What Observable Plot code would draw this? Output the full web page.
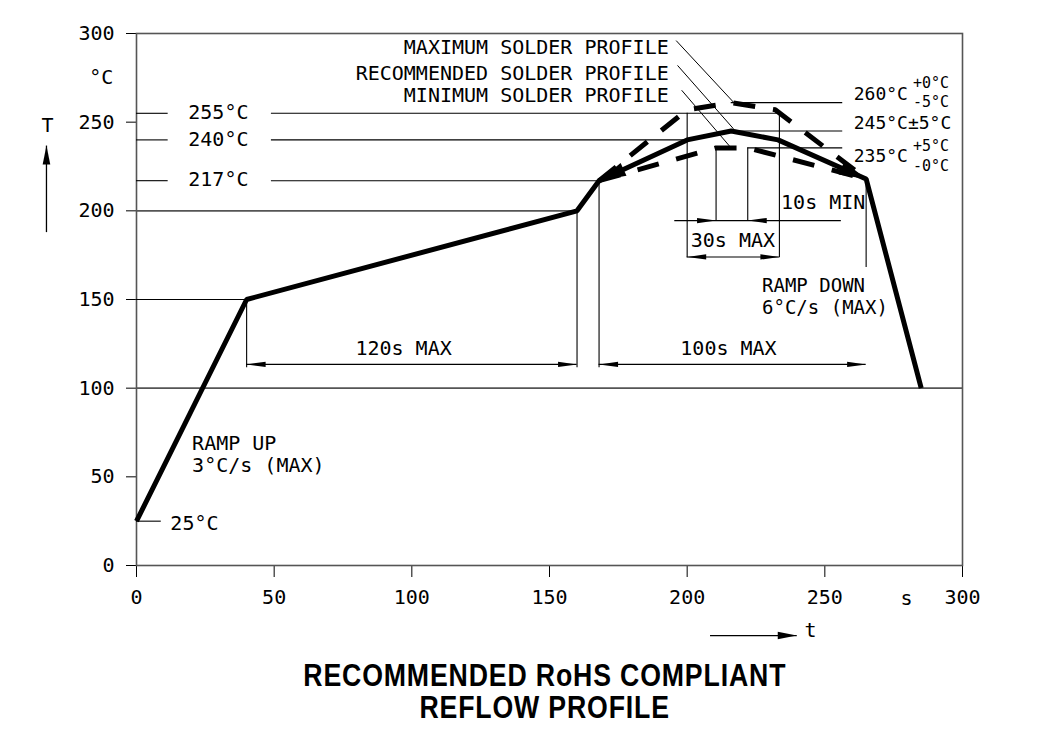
<!DOCTYPE html>
<html><head><meta charset="utf-8">
<script src="https://cdn.jsdelivr.net/npm/d3@7"></script>
<script src="https://cdn.jsdelivr.net/npm/@observablehq/plot@0.6"></script>
<style>
body{margin:0;background:#fff;}
#title{box-sizing:border-box;width:1045px;padding-left:45px;text-align:center;font-family:"Liberation Sans",Arial,sans-serif;font-weight:bold;font-size:31px;letter-spacing:1px;line-height:32px;margin-top:10px;color:#000;}
#title span{display:inline-block;transform:scaleX(0.86);transform-origin:center;}
</style></head><body><div id="chart"></div>
<div id="title"><span>RECOMMENDED RoHS COMPLIANT</span><br><span>REFLOW PROFILE</span></div>
<script>
// ---- data ----
const xTicks = [0, 50, 100, 150, 200, 250, 300];
const yTicks = [0, 50, 100, 150, 200, 250, 300];
const recTime = [0, 40, 160, 168, 200, 216, 233, 265, 285];
const recTemp = [25, 150, 200, 217, 240, 245, 240, 218, 100];
const maxTime = [168, 200, 216, 232, 265];
const maxTemp = [217, 257, 261, 257, 218];
const minTime = [168, 210.5, 222, 265];
const minTemp = [217, 235.5, 235.5, 218];

// reference lines (temperature level, from time, to time)
const refLines = [
  {T: 255, t1: 0, t2: 11.5}, {T: 255, t1: 49, t2: 233.5},
  {T: 240, t1: 0, t2: 11.5}, {T: 240, t1: 49, t2: 200},
  {T: 217, t1: 0, t2: 11.5}, {T: 217, t1: 49, t2: 168},
  {T: 150, t1: 0, t2: 40}, {T: 25, t1: 0, t2: 9},
  {T: 261, t1: 216, t2: 256.5}, {T: 245, t1: 216, t2: 256.5}, {T: 235.5, t1: 222, t2: 256.5}
];
const gridLines = [{T: 200, t1: 0, t2: 160}, {T: 100, t1: 0, t2: 300}];
// extension lines (time, from temp, to temp)
const extLines = [
  {t: 40, T1: 150, T2: 111.5}, {t: 160, T1: 200, T2: 111.5},
  {t: 168, T1: 217, T2: 111.5}, {t: 265, T1: 218, T2: 168},
  {t: 200, T1: 255, T2: 173.5}, {t: 233.5, T1: 255, T2: 173.5},
  {t: 210.5, T1: 235.5, T2: 194.5}, {t: 222, T1: 235.5, T2: 194.5}
];
// dimension lines
const dimLines = [
  {T: 113.4, t1: 40, t2: 160}, {T: 113.4, t1: 168, t2: 265},
  {T: 174, t1: 200, t2: 233.5}, {T: 194.5, t1: 195.5, t2: 256}
];
// dimension arrowheads: tip and direction (deg)
const dimHeads = [
  {t: 40, T: 113.4, dir: 180}, {t: 160, T: 113.4, dir: 0},
  {t: 168, T: 113.4, dir: 180}, {t: 265, T: 113.4, dir: 0},
  {t: 200, T: 174, dir: 180}, {t: 233.5, T: 174, dir: 0},
  {t: 210.5, T: 194.5, dir: 0}, {t: 222, T: 194.5, dir: 180}
];
// leader lines from labels to the profiles
const leaders = [
  {t1: 196, T1: 296, t2: 216.8, T2: 261.3},
  {t1: 196.5, T1: 282, t2: 216.8, T2: 246.3},
  {t1: 198, T1: 268, t2: 215.5, T2: 236.3}
];
// axis direction arrows (t arrow below, T arrow at left)
const axisArrows = [
  {t1: 208.3, T1: -39.5, t2: 239.8, T2: -39.5},
  {t1: -32.7, T1: 188, t2: -32.7, T2: 236.8}
];
const labels = [
  {text: "°C", t: -8.4, T: 275, anchor: "end", size: 20},
  {text: "255°C", t: 18.8, T: 255.5, anchor: "start", size: 20},
  {text: "240°C", t: 18.8, T: 240, anchor: "start", size: 20},
  {text: "217°C", t: 18.8, T: 217.7, anchor: "start", size: 20},
  {text: "25°C", t: 12.3, T: 23.5, anchor: "start", size: 20},
  {text: "RAMP UP", t: 20.2, T: 68.8, anchor: "start", size: 20},
  {text: "3°C/s (MAX)", t: 20.2, T: 56.4, anchor: "start", size: 20},
  {text: "120s MAX", t: 97, T: 122.4, anchor: "middle", size: 20},
  {text: "100s MAX", t: 215, T: 122.4, anchor: "middle", size: 20},
  {text: "30s MAX", t: 216.6, T: 183, anchor: "middle", size: 20},
  {text: "10s MIN", t: 234.1, T: 204.7, anchor: "start", size: 20},
  {text: "RAMP DOWN", t: 227.2, T: 157.9, anchor: "start", size: 19},
  {text: "6°C/s (MAX)", t: 227.2, T: 145.5, anchor: "start", size: 19},
  {text: "MAXIMUM SOLDER PROFILE", t: 193.3, T: 292.3, anchor: "end", size: 20},
  {text: "RECOMMENDED SOLDER PROFILE", t: 193.3, T: 277.6, anchor: "end", size: 20},
  {text: "MINIMUM SOLDER PROFILE", t: 193.3, T: 265, anchor: "end", size: 20},
  {text: "260°C", t: 260.5, T: 265.5, anchor: "start", size: 18},
  {text: "+0°C", t: 282, T: 272, anchor: "start", size: 15},
  {text: "-5°C", t: 282, T: 261, anchor: "start", size: 15},
  {text: "245°C±5°C", t: 260.5, T: 249.3, anchor: "start", size: 18},
  {text: "235°C", t: 260.5, T: 230.8, anchor: "start", size: 18},
  {text: "+5°C", t: 282, T: 236.4, anchor: "start", size: 15},
  {text: "-0°C", t: 282, T: 225, anchor: "start", size: 15},
  {text: "s", t: 279.7, T: -18.8, anchor: "middle", size: 20},
  {text: "t", t: 244.8, T: -36.7, anchor: "middle", size: 20},
  {text: "T", t: -32.3, T: 248, anchor: "middle", size: 20}
];

// ---- layout ----
const W = 1045, H = 650, mL = 136, mR = 83, mT = 33, mB = 85;
const kx = (W - mL - mR) / 300, ky = (H - mT - mB) / 300;
const angle = (t1, T1, t2, T2) => Math.atan2(-(T2 - T1) * ky, (t2 - t1) * kx) * 180 / Math.PI;

function head(ratio) {
  return {draw(ctx, size) {
    const L = Math.sqrt(size / Math.PI), w = L * ratio;
    ctx.moveTo(0, 0); ctx.lineTo(-L, -w); ctx.lineTo(-L, w); ctx.closePath();
  }};
}

const rec = recTime.map((t, i) => ({t, T: recTemp[i]}));
const mx = maxTime.map((t, i) => ({t, T: maxTemp[i]}));
const mn = minTime.map((t, i) => ({t, T: minTemp[i]}));
const profileHeads = [
  {t: recTime[3], T: recTemp[3], a: angle(recTime[4], recTemp[4], recTime[3], recTemp[3])},
  {t: recTime[7], T: recTemp[7], a: angle(recTime[6], recTemp[6], recTime[7], recTemp[7])}
];
const axisHeads = axisArrows.map(d => ({t: d.t2, T: d.T2, a: angle(d.t1, d.T1, d.t2, d.T2)}));

const txt = (anchor) => Plot.text(labels.filter(d => d.anchor === anchor), {
  x: "t", y: "T", text: "text", textAnchor: anchor, fontSize: "size", fill: "black"
});

const chart = Plot.plot({
  width: W, height: H,
  marginLeft: mL, marginRight: mR, marginTop: mT, marginBottom: mB,
  style: {fontFamily: "'DejaVu Sans Mono', monospace", fontSize: "20px", background: "white", color: "black"},
  x: {domain: [0, 300], ticks: xTicks, tickSize: 12, tickPadding: 12, tickFormat: d3.format("d"), label: null},
  y: {domain: [0, 300], ticks: yTicks, tickSize: 10, tickPadding: 12, tickFormat: d3.format("d"), label: null},
  marks: [
    Plot.frame({stroke: "#555", strokeWidth: 1.6}),
    Plot.ruleY(gridLines, {y: "T", x1: "t1", x2: "t2", stroke: "#555", strokeWidth: 1.6}),
    Plot.ruleY(refLines, {y: "T", x1: "t1", x2: "t2", stroke: "black", strokeWidth: 1.1}),
    Plot.ruleX(extLines, {x: "t", y1: "T1", y2: "T2", stroke: "black", strokeWidth: 1.1}),
    Plot.ruleY(dimLines, {y: "T", x1: "t1", x2: "t2", stroke: "black", strokeWidth: 1.1}),
    Plot.dot(dimHeads, {x: "t", y: "T", rotate: "dir", symbol: head(0.14), r: 19, fill: "black", stroke: "none"}),
    Plot.link(leaders, {x1: "t1", y1: "T1", x2: "t2", y2: "T2", stroke: "black", strokeWidth: 1}),
    Plot.link(axisArrows, {x1: "t1", y1: "T1", x2: "t2", y2: "T2", stroke: "black", strokeWidth: 1.3}),
    Plot.dot(axisHeads, {x: "t", y: "T", rotate: "a", symbol: head(0.2), r: 19, fill: "black", stroke: "none"}),
    Plot.line(mx, {x: "t", y: "T", stroke: "black", strokeWidth: 5, strokeDasharray: "22,18", strokeLinecap: "butt", strokeLinejoin: "miter"}),
    Plot.line(mn, {x: "t", y: "T", stroke: "black", strokeWidth: 5, strokeDasharray: "22,18", strokeLinecap: "butt", strokeLinejoin: "miter"}),
    Plot.line(rec, {x: "t", y: "T", stroke: "black", strokeWidth: 5, strokeLinejoin: "miter", strokeLinecap: "butt"}),
    Plot.dot(profileHeads, {x: "t", y: "T", rotate: "a", symbol: head(0.26), r: 27, fill: "black", stroke: "none"}),
    txt("start"), txt("middle"), txt("end")
  ]
});
document.getElementById("chart").appendChild(chart);
</script></body></html>
